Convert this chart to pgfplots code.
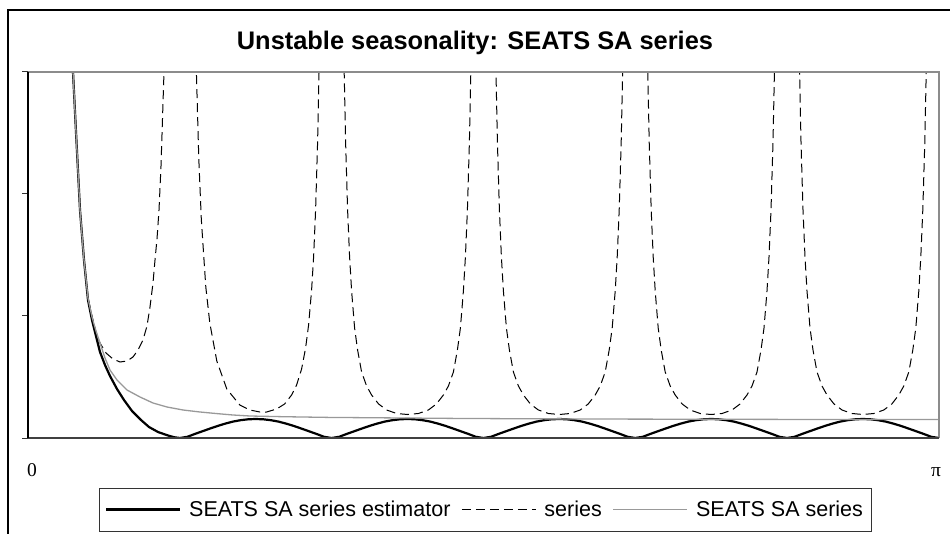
\documentclass[border=0pt]{standalone}
\usepackage{fontspec}
\setmainfont{Liberation Sans}
\newfontfamily\tnr{Liberation Serif}
\usepackage{pgfplots}
\pgfplotsset{compat=1.18}
\begin{document}
\begin{tikzpicture}[x=1pt,y=1pt]
\useasboundingbox (0,0) rectangle (950,533);
\draw[line width=1.5pt] (8,-10) -- (8,523) -- (960,523);
\node[anchor=base, font=\fontsize{25.4}{30}\selectfont\bfseries] at (475,483) {Unstable seasonality: SEATS SA series};
\begin{axis}[
  at={(28,95)}, anchor=south west,
  scale only axis, width=911pt, height=366pt,
  xmin=0, xmax=911, ymin=0, ymax=366,
  axis line style={draw=none},
  clip mode=individual,
  ytick={0,122,244,366}, yticklabels={},
  ytick pos=left, tick align=outside,
  major tick length=6pt,
  y tick style={black!80, line width=1pt},
  xtick={4,908}, xticklabels={{\tnr 0},{\tnr π}},
  x tick style={draw=none},
  xticklabel style={anchor=base, yshift=-32pt, font=\fontsize{19.5}{22}\selectfont},
  legend columns=3,
  legend image code/.code={\draw[#1] (0pt,0pt) -- (74pt,0pt);},
  legend style={at={(0.5016,-0.1954)}, anchor=center, draw=black!80, line width=0.8pt,
    font=\fontsize{21.5}{25}\selectfont, inner xsep=6pt, inner ysep=11pt,
    /tikz/every odd column/.append style={column sep=6pt},
    /tikz/every even column/.append style={column sep=9pt}},
]
\addplot[black, line width=2.2pt] coordinates {
(36,600) (40,470) (42,430) (45,366) (48,306) (52,228) (56,178) (60,138) (64,118) (67,106) (72,86) (77,73) (82,62) (89,49) (96,38) (104,27) (113,18) (121,11) (130,6) (140,2.5) (146,0.8)
(151.8,0) (159.4,1.2) (167.0,4.1) (174.6,6.8) (182.2,9.5) (189.8,12.1) (197.3,14.4) (204.9,16.4) (212.5,17.8) (220.1,18.7) (227.7,19.0) (235.3,18.7) (242.9,17.8) (250.5,16.4) (258.1,14.4) (265.7,12.1) (273.2,9.5) (280.8,6.8) (288.4,4.1) (296.0,1.2)
(303.6,0) (311.2,1.2) (318.8,4.1) (326.4,6.8) (334.0,9.5) (341.6,12.1) (349.1,14.4) (356.7,16.4) (364.3,17.8) (371.9,18.7) (379.5,19.0) (387.1,18.7) (394.7,17.8) (402.3,16.4) (409.9,14.4) (417.5,12.1) (425.0,9.5) (432.6,6.8) (440.2,4.1) (447.8,1.2)
(455.4,0) (463.0,1.2) (470.6,4.1) (478.2,6.8) (485.8,9.5) (493.4,12.1) (500.9,14.4) (508.5,16.4) (516.1,17.8) (523.7,18.7) (531.3,19.0) (538.9,18.7) (546.5,17.8) (554.1,16.4) (561.7,14.4) (569.3,12.1) (576.8,9.5) (584.4,6.8) (592.0,4.1) (599.6,1.2)
(607.2,0) (614.8,1.2) (622.4,4.1) (630.0,6.8) (637.6,9.5) (645.2,12.1) (652.7,14.4) (660.3,16.4) (667.9,17.8) (675.5,18.7) (683.1,19.0) (690.7,18.7) (698.3,17.8) (705.9,16.4) (713.5,14.4) (721.1,12.1) (728.6,9.5) (736.2,6.8) (743.8,4.1) (751.4,1.2)
(759.0,0) (766.6,1.2) (774.2,4.1) (781.8,6.8) (789.4,9.5) (797.0,12.1) (804.5,14.4) (812.1,16.4) (819.7,17.8) (827.3,18.7) (834.9,19.0) (842.5,18.7) (850.1,17.8) (857.7,16.4) (865.3,14.4) (872.9,12.1) (880.4,9.5) (888.0,6.8) (895.6,4.1) (903.2,1.2) (911,0)
};
\addlegendentry{SEATS SA series estimator}
\addplot[black, line width=1pt, dash pattern=on 9pt off 5pt] coordinates {
(36,600) (40,470) (42,430) (45,366) (48,306) (52,228) (56,178) (60,140) (64,122) (68,106) (72,95) (78,85) (85,79) (92,76) (99,77) (105,81) (110,88) (115,98) (119,112) (122,131) (125,155) (127,178) (129,199) (131,228) (133,272) (135,335) (136,366) (137,410) (138,470)
(166.8,446) (168.3,369) (170.8,279) (173.3,219) (177.8,151) (181.8,115) (188.8,77) (198.8,49) (211.8,33) (221.8,28) (231.8,26) (238.6,26) (248.6,29) (256.6,34) (263.6,43) (268.6,53) (273.6,69) (277.6,90) (280.6,113) (283.6,148) (285.6,181) (287.6,228) (289.6,296) (291.1,370) (292.6,477)
(314.6,479) (316.1,370) (317.6,296) (319.6,228) (321.6,181) (323.6,147) (326.6,110) (329.6,88) (333.6,66) (338.6,52) (343.6,43) (350.6,34) (358.6,28) (368.6,24.5) (379.5,23.5) (390.4,24.5) (400.4,28) (408.4,34) (415.4,43) (420.4,52) (425.4,66) (429.4,88) (432.4,110) (435.4,147) (437.4,181) (439.4,228) (441.4,296) (442.9,370) (444.4,479)
(466.4,479) (467.9,370) (469.4,296) (471.4,228) (473.4,181) (475.4,147) (478.4,110) (481.4,88) (485.4,66) (490.4,52) (495.4,43) (502.4,34) (510.4,28) (520.4,24.5) (531.3,23.5) (542.2,24.5) (552.2,28) (560.2,34) (567.2,43) (572.2,52) (577.2,66) (581.2,88) (584.2,110) (587.2,147) (589.2,181) (591.2,228) (593.2,296) (594.7,370) (596.2,479)
(618.2,479) (619.7,370) (621.2,296) (623.2,228) (625.2,181) (627.2,147) (630.2,110) (633.2,88) (637.2,66) (642.2,52) (647.2,43) (654.2,34) (662.2,28) (672.2,24.5) (683.1,23.5) (694.0,24.5) (704.0,28) (712.0,34) (719.0,43) (724.0,52) (729.0,66) (733.0,88) (736.0,110) (739.0,147) (741.0,181) (743.0,228) (745.0,296) (746.5,370) (748.0,479)
(770.0,479) (771.5,370) (773.0,296) (775.0,228) (777.0,181) (779.0,147) (782.0,110) (785.0,88) (789.0,66) (794.0,52) (799.0,43) (806.0,34) (814.0,28) (824.0,24.5) (834.9,23.5) (845.8,24.5) (855.8,28) (863.8,34) (870.8,43) (875.8,52) (880.8,66) (884.8,88) (887.8,110) (890.8,147) (892.8,181) (894.8,228) (896.8,296) (898.3,370) (899.8,479)
};
\addlegendentry{series}
\addplot[black!40, line width=1.3pt] coordinates {
(36,600) (40,470) (42,430) (45,366) (48,306) (52,228) (56,178) (60,140) (64,121) (68,107) (72,95) (77,80) (82,68) (89,58) (99,48) (112,41) (125,35) (139,31) (155,28) (172,26) (190,24.3) (205,23) (222,22) (255,21.3) (300,20.6) (350,20.2) (425,19.6) (500,19.2) (600,18.9) (750,18.6) (911,18.5)
};
\addlegendentry{SEATS SA series}
\draw[black!45, line width=1.2pt] (rel axis cs:0,1) -- (rel axis cs:1,1) -- (rel axis cs:1,0);
\draw[black!75, line width=1.4pt] (rel axis cs:0,0) -- (rel axis cs:1,0);
\draw[black, line width=1.3pt] (rel axis cs:0,0) -- (rel axis cs:0,1);
\end{axis}
\end{tikzpicture}
\end{document}
